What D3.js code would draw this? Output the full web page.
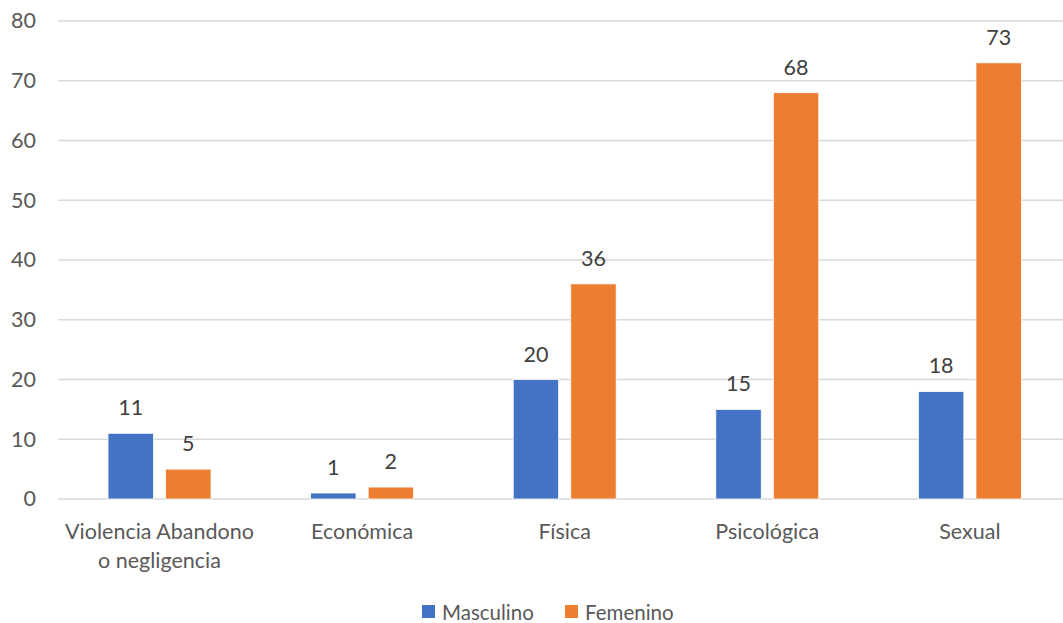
<!DOCTYPE html>
<html>
<head>
<meta charset="utf-8">
<script src="https://cdn.jsdelivr.net/npm/d3@7"></script>
<style>
  html, body { margin: 0; padding: 0; background: #fff; }
  svg { display: block; font-family: Lato, "Open Sans", sans-serif; }
</style>
</head>
<body>
<svg id="chart" width="1063" height="623"></svg>
<script>
// Tipos de violencia por sexo
const categories = [["Violencia Abandono", "o negligencia"], ["Económica"], ["Física"], ["Psicológica"], ["Sexual"]];
const seriesNames = ["Masculino", "Femenino"];
const masculino = [11, 1, 20, 15, 18];
const femenino = [5, 2, 36, 68, 73];
const yTicks = [0, 10, 20, 30, 40, 50, 60, 70, 80];
const colors = ["#4472C4", "#ED7D31"];
const fontSize = 21.5;

const svg = d3.select("#chart");
const plotLeft = 58, plotRight = 1071, plotTop = 21, plotBottom = 499;

const keys = categories.map(c => c.join(" "));
const x = d3.scaleBand().domain(keys).range([plotLeft, plotRight]).paddingInner(0).paddingOuter(0);
const y = d3.scaleLinear().domain([0, 80]).range([plotBottom, plotTop]);
const xs = d3.scaleBand().domain(seriesNames).range([50, 153]).paddingInner(0.21).paddingOuter(0);

// gridlines
svg.append("g").selectAll("line").data(yTicks).join("line")
  .attr("x1", plotLeft).attr("x2", plotRight)
  .attr("y1", d => y(d)).attr("y2", d => y(d))
  .attr("stroke", "#D9D9D9").attr("stroke-width", 1.3);

// y axis labels
const yAxis = d3.axisLeft(y).tickValues(yTicks).tickSize(0).tickPadding(0);
const ya = svg.append("g").attr("transform", `translate(36,0)`).call(yAxis);
ya.select(".domain").remove();
ya.selectAll("text").attr("font-size", fontSize).attr("fill", "#595959").attr("font-family", "Lato, sans-serif");

// bars
const rows = keys.map((k, i) => ({ key: k, vals: [masculino[i], femenino[i]] }));
const groups = svg.append("g").selectAll("g").data(rows).join("g")
  .attr("transform", d => `translate(${x(d.key)},0)`);

groups.selectAll("rect").data(d => d.vals.map((v, j) => ({ v, s: seriesNames[j], j })))
  .join("rect")
  .attr("x", d => xs(d.s))
  .attr("width", xs.bandwidth())
  .attr("y", d => y(d.v))
  .attr("height", d => y(0) - y(d.v))
  .attr("fill", d => colors[d.j])
  .attr("stroke", "#fff").attr("stroke-width", 0.8);

// data labels
groups.selectAll("text.val").data(d => d.vals.map((v, j) => ({ v, s: seriesNames[j] })))
  .join("text").attr("class", "val")
  .attr("x", d => xs(d.s) + xs.bandwidth() / 2)
  .attr("y", d => y(d.v) - 26)
  .attr("text-anchor", "middle")
  .attr("dominant-baseline", "central")
  .attr("font-size", fontSize).attr("fill", "#404040")
  .text(d => d.v);

// category labels
const cat = svg.append("g").selectAll("text").data(categories).join("text")
  .attr("x", (d, i) => x(keys[i]) + 101.5)
  .attr("y", 531)
  .attr("text-anchor", "middle")
  .attr("font-size", fontSize).attr("fill", "#595959");
cat.selectAll("tspan").data(d => d).join("tspan")
  .attr("x", function () { return d3.select(this.parentNode).attr("x"); })
  .attr("dy", (d, i) => i === 0 ? "0.35em" : "1.38em")
  .text(d => d);

// legend
const legend = svg.append("g");
const legendItems = [{ name: seriesNames[0], x: 422, c: colors[0] }, { name: seriesNames[1], x: 565, c: colors[1] }];
const li = legend.selectAll("g").data(legendItems).join("g").attr("transform", d => `translate(${d.x},605)`);
li.append("rect").attr("width", 13).attr("height", 13).attr("fill", d => d.c);
li.append("text").attr("x", 20).attr("y", 6.5).attr("dominant-baseline", "central")
  .attr("font-size", 20.5).attr("fill", "#595959").text(d => d.name);
</script>
</body>
</html>
